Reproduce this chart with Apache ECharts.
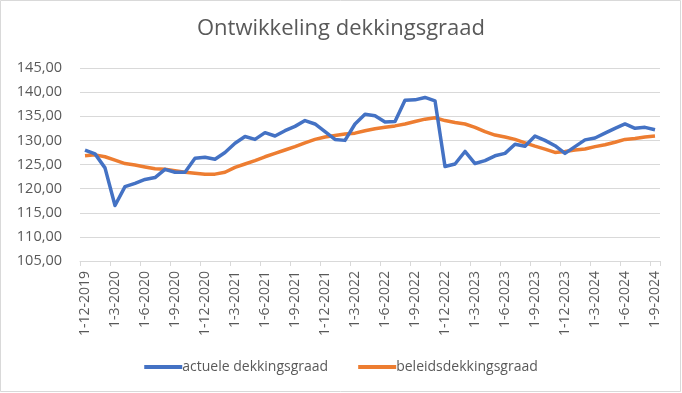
<!DOCTYPE html>
<html>
<head>
<meta charset="utf-8">
<script src="https://cdn.jsdelivr.net/npm/echarts@6/dist/echarts.min.js"></script>
<style>
html,body{margin:0;padding:0;background:#fff;}
#chart{width:682px;height:393px;}
</style>
</head>
<body>
<div id="chart"></div>
<script>
var categories = [
"1-12-2019",
"1-1-2020","1-2-2020","1-3-2020","1-4-2020","1-5-2020","1-6-2020","1-7-2020","1-8-2020","1-9-2020","1-10-2020","1-11-2020","1-12-2020",
"1-1-2021","1-2-2021","1-3-2021","1-4-2021","1-5-2021","1-6-2021","1-7-2021","1-8-2021","1-9-2021","1-10-2021","1-11-2021","1-12-2021",
"1-1-2022","1-2-2022","1-3-2022","1-4-2022","1-5-2022","1-6-2022","1-7-2022","1-8-2022","1-9-2022","1-10-2022","1-11-2022","1-12-2022",
"1-1-2023","1-2-2023","1-3-2023","1-4-2023","1-5-2023","1-6-2023","1-7-2023","1-8-2023","1-9-2023","1-10-2023","1-11-2023","1-12-2023",
"1-1-2024","1-2-2024","1-3-2024","1-4-2024","1-5-2024","1-6-2024","1-7-2024","1-8-2024","1-9-2024"
];
var actueleDekkingsgraad = [
128.0, 127.2, 124.3, 116.5, 120.4, 121.1, 121.9, 122.3, 124.0, 123.4, 123.4, 126.3,
126.5, 126.1, 127.5, 129.4, 130.8, 130.2, 131.6, 130.9, 132.0, 132.9, 134.1, 133.4,
131.8, 130.2, 130.0, 133.4, 135.4, 135.1, 133.8, 133.9, 138.3, 138.4, 138.9, 138.2,
124.6, 125.1, 127.7, 125.2, 125.8, 126.8, 127.3, 129.2, 128.8, 130.9, 130.0, 128.9,
127.3, 128.7, 130.1, 130.5, 131.5, 132.5, 133.4, 132.5, 132.7, 132.2
];
var beleidsdekkingsgraad = [
126.8, 127.0, 126.6, 125.9, 125.2, 124.9, 124.5, 124.1, 124.0, 123.7, 123.4, 123.2,
123.0, 123.0, 123.4, 124.4, 125.1, 125.8, 126.6, 127.3, 128.0, 128.7, 129.5, 130.2,
130.7, 131.0, 131.3, 131.5, 132.0, 132.4, 132.7, 133.0, 133.4, 133.9, 134.4, 134.7,
134.1, 133.7, 133.4, 132.7, 131.8, 131.1, 130.7, 130.2, 129.5, 128.8, 128.2, 127.5,
127.7, 128.0, 128.2, 128.7, 129.1, 129.6, 130.2, 130.4, 130.7, 130.9
];
var seriesNames = ["actuele dekkingsgraad", "beleidsdekkingsgraad"];
var titleText = "Ontwikkeling dekkingsgraad";

var chart = echarts.init(document.getElementById('chart'), null, {renderer: 'canvas'});
var font = "Open Sans, Liberation Sans, sans-serif";
chart.setOption({
  animation: false,
  backgroundColor: '#ffffff',
  graphic: [{
    type: 'rect', silent: true,
    shape: {x: 0.5, y: 0.5, width: 680, height: 391},
    style: {fill: 'none', stroke: '#d9d9d9', lineWidth: 1}
  }],
  title: {
    text: titleText,
    left: 'center',
    top: 13,
    textStyle: {fontFamily: font, fontSize: 22, fontWeight: 'normal', color: '#595959'}
  },
  legend: {
    bottom: 14,
    left: 'center',
    icon: 'rect',
    itemWidth: 38,
    itemHeight: 4,
    itemGap: 30,
    textStyle: {fontFamily: font, fontSize: 14, color: '#595959', padding: [0,0,0,-5]},
    data: seriesNames
  },
  grid: {left: 80, right: 22, top: 68, bottom: 132, containLabel: false},
  xAxis: {
    type: 'category',
    data: categories,
    boundaryGap: true,
    axisLine: {lineStyle: {color: '#d9d9d9', width: 1}},
    axisTick: {show: true, interval: 2, length: 5, lineStyle: {color: '#d9d9d9'}},
    axisLabel: {interval: 2, rotate: 90, fontFamily: font, fontSize: 14, color: '#595959', margin: 10}
  },
  yAxis: {
    type: 'value',
    min: 105, max: 145, interval: 5,
    axisLine: {show: false},
    axisTick: {show: false},
    splitLine: {lineStyle: {color: '#d9d9d9', width: 1}},
    axisLabel: {
      fontFamily: font, fontSize: 14.5, color: '#595959', margin: 18,
      formatter: function (v) { return v.toFixed(2).replace('.', ','); }
    }
  },
  series: [
    {name: seriesNames[0], type: 'line', data: actueleDekkingsgraad, symbol: 'none',
     lineStyle: {width: 3.5, color: '#4472C4', join: 'round'}, itemStyle: {color: '#4472C4'}, z: 3},
    {name: seriesNames[1], type: 'line', data: beleidsdekkingsgraad, symbol: 'none',
     lineStyle: {width: 3.5, color: '#ED7D31', join: 'round'}, itemStyle: {color: '#ED7D31'}, z: 2}
  ]
});
</script>
</body>
</html>
